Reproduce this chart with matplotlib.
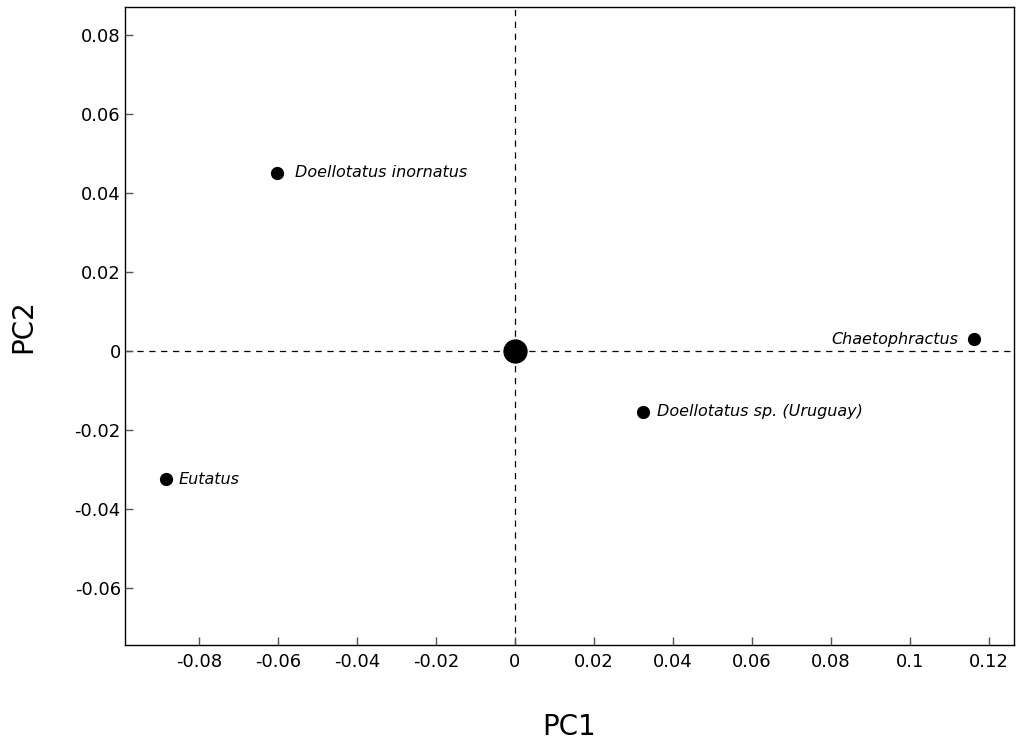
import numpy as np
import matplotlib.pyplot as plt
from matplotlib.ticker import FuncFormatter

# PCA scores
taxa = ["Doellotatus inornatus", "Eutatus", "Chaetophractus", "Doellotatus sp. (Uruguay)"]
pc1 = [-0.0603, -0.0884, 0.1162, 0.0324]
pc2 = [0.0451, -0.0324, 0.0030, -0.0154]
label_dx = [13, 9.5, -11, 10]

fig = plt.figure(figsize=(10.17, 7.46), dpi=100)
ax = fig.add_axes([0.1229, 0.1354, 0.8741, 0.8552])

ax.axhline(0, color="k", lw=0.9, ls=(0, (5, 4.5)), zorder=1)
ax.axvline(0, color="k", lw=0.9, ls=(0, (5, 4.5)), zorder=1)

ax.plot(pc1, pc2, "o", color="k", ms=8.5, zorder=3)
ax.plot([0], [0], "o", color="k", ms=16.5, zorder=3)

for name, x, y, dx in zip(taxa, pc1, pc2, label_dx):
    ax.annotate(name, (x, y), xytext=(dx, 0), textcoords="offset points",
                ha="left" if dx > 0 else "right", va="center",
                fontsize=11.5, style="italic")

ax.set_xlim(-0.0987, 0.1263)
ax.set_ylim(-0.0744, 0.0871)
ax.set_xticks(np.arange(-0.08, 0.121, 0.02))
ax.set_yticks(np.arange(-0.06, 0.081, 0.02))

fmt = FuncFormatter(lambda v, p: "0" if abs(v) < 1e-9 else f"{v:g}")
ax.xaxis.set_major_formatter(fmt)
ax.yaxis.set_major_formatter(fmt)
ax.tick_params(direction="in", length=6, width=1, color="#555555",
               labelsize=13)
ax.tick_params(axis="x", pad=6)
ax.tick_params(axis="y", pad=3)

for s in ax.spines.values():
    s.set_linewidth(1)

ax.set_xlabel("PC1", fontsize=20, labelpad=30)
ax.set_ylabel("PC2", fontsize=20, labelpad=27)

fig.savefig("out.png", dpi=100)
